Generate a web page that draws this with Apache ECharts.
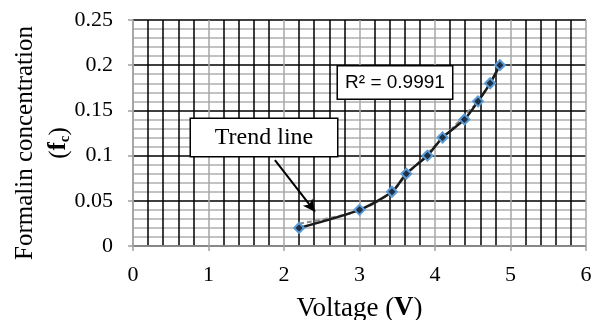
<!DOCTYPE html>
<html>
<head>
<meta charset="utf-8">
<script src="https://cdn.jsdelivr.net/npm/echarts@6/dist/echarts.min.js"></script>
<style>
  html, body { margin: 0; padding: 0; background: #fff; }
  #main { width: 594px; height: 320px; }
</style>
</head>
<body>
<div id="main"></div>
<script>
// measured points
const voltage = [2.2, 3.0, 3.43, 3.62, 3.9, 4.1, 4.39, 4.57, 4.73, 4.86];
const concentration = [0.02, 0.04, 0.06, 0.08, 0.10, 0.12, 0.14, 0.16, 0.18, 0.20];
// trend line
const trendVoltage = [2.2, 2.6, 3.0, 3.4, 3.6, 3.8, 4.0, 4.2, 4.4, 4.6, 4.86];
const trendConc = [0.025, 0.031, 0.040, 0.058, 0.076, 0.094, 0.111, 0.128, 0.145, 0.164, 0.199];
// axes
const xTicks = { min: 0, max: 6, interval: 1 };
const yTicks = { min: 0, max: 0.25, interval: 0.05 };
const rSquared = 'R² = 0.9991';

const serif = 'Liberation Serif';
const chart = echarts.init(document.getElementById('main'));

// boxed annotation label
function boxLabel(text, w, h, font, size) {
  return {
    show: true, position: 'inside', formatter: text,
    fontFamily: font, fontSize: size, color: '#000',
    width: w, height: h, lineHeight: h, align: 'center', verticalAlign: 'middle',
    backgroundColor: '#fff', borderColor: '#000', borderWidth: 1.5
  };
}

chart.setOption({
  animation: false,
  grid: { left: 133, right: 8, top: 20, bottom: 74, containLabel: false, outerBoundsMode: 'none' },
  xAxis: {
    type: 'value',
    min: xTicks.min, max: xTicks.max, interval: xTicks.interval,
    name: 'Voltage ({b|V})',
    nameLocation: 'middle',
    nameGap: 49,
    nameMoveOverlap: false,
    nameTextStyle: {
      fontFamily: serif, fontSize: 27, color: '#000',
      rich: { b: { fontFamily: serif, fontSize: 27, fontWeight: 'bold', color: '#000' } }
    },
    axisLine: { show: true, onZero: false, lineStyle: { color: '#a0a0a0', width: 1.5 } },
    axisTick: { show: true, length: 5, lineStyle: { color: '#a0a0a0', width: 1.5 } },
    axisLabel: { fontFamily: serif, fontSize: 22, color: '#000', margin: 18 },
    splitLine: { show: true, lineStyle: { color: '#a6a6a6', width: 1.5 } },
    minorTick: { show: false, splitNumber: 5 },
    minorSplitLine: { show: true, lineStyle: { color: '#000', width: 1.5 } }
  },
  yAxis: {
    type: 'value',
    min: yTicks.min, max: yTicks.max, interval: yTicks.interval,
    name: 'Formalin concentration\n({f|f}{c|c})',
    nameLocation: 'middle',
    nameRotate: 90,
    nameGap: 57,
    nameMoveOverlap: false,
    nameTextStyle: {
      fontFamily: serif, fontSize: 25, color: '#000', lineHeight: 34,
      padding: [0, 20, 0, 0],
      rich: {
        f: { fontFamily: serif, fontSize: 25, fontWeight: 'bold', color: '#000' },
        c: { fontFamily: serif, fontSize: 15, fontWeight: 'bold', color: '#000', padding: [12, 0, 0, 0] }
      }
    },
    axisLine: { show: true, onZero: false, lineStyle: { color: '#a0a0a0', width: 1.5 } },
    axisTick: { show: true, length: 5, lineStyle: { color: '#a0a0a0', width: 1.5 } },
    axisLabel: { fontFamily: serif, fontSize: 22, color: '#000', margin: 20 },
    splitLine: { show: true, lineStyle: { color: '#000', width: 1.5 } },
    minorTick: { show: false, splitNumber: 5 },
    minorSplitLine: { show: true, lineStyle: { color: '#b0b0b0', width: 1.5 } }
  },
  series: [
    {
      name: 'trend',
      type: 'line',
      data: trendVoltage.map((v, i) => [v, trendConc[i]]),
      smooth: true,
      showSymbol: false,
      z: 3,
      lineStyle: { color: '#8c8c8c', width: 2, type: [5, 3] },
      markLine: {
        silent: true,
        symbol: ['none', 'arrow'],
        symbolSize: [9, 12],
        label: { show: false },
        lineStyle: { color: '#000', width: 2, type: 'solid' },
        data: [[{ coord: [1.88, 0.095] }, { coord: [2.41, 0.038] }]]
      },
      markPoint: {
        silent: true,
        symbol: 'rect',
        symbolSize: 0,
        z: 10,
        data: [
          { coord: [1.735, 0.12], label: boxLabel('Trend line', 146, 37, serif, 24) },
          { coord: [3.47, 0.181], label: boxLabel(rSquared, 114, 32, 'Liberation Sans', 19) }
        ]
      }
    },
    {
      name: 'measured',
      type: 'line',
      data: voltage.map((v, i) => [v, concentration[i]]),
      smooth: 0.25,
      z: 4,
      symbol: 'diamond',
      symbolSize: 10,
      showSymbol: true,
      lineStyle: { color: '#1a1a1a', width: 2.5 },
      itemStyle: { color: '#1f2f45', borderColor: '#5b9bd5', borderWidth: 2 }
    }
  ]
});
</script>
</body>
</html>
